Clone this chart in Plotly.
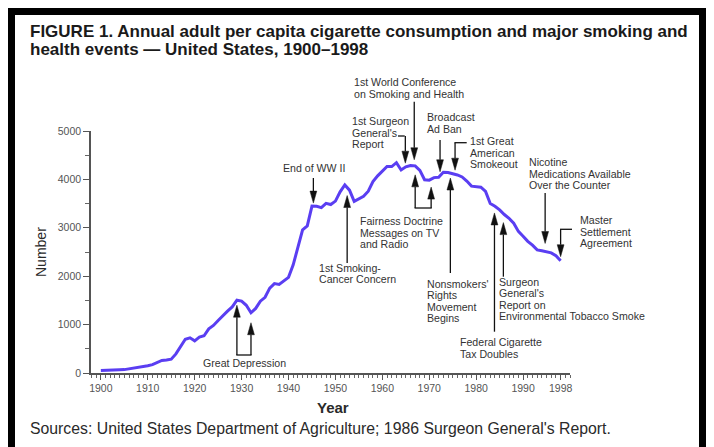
import numpy as np
import plotly.graph_objects as go

# ---------------- data ----------------
years = list(range(1900, 1999))
consumption = [54, 53, 60, 64, 66, 70, 86, 99, 105, 125,
               151, 173, 223, 260, 267, 285, 395, 551, 697, 727,
               665, 742, 770, 911, 982, 1085, 1191, 1279, 1366, 1504,
               1485, 1399, 1245, 1334, 1483, 1564, 1754, 1847, 1830, 1900,
               1976, 2236, 2585, 2956, 3039, 3449, 3446, 3416, 3505, 3480,
               3552, 3744, 3886, 3778, 3546, 3597, 3650, 3755, 3953, 4073,
               4171, 4266, 4265, 4345, 4195, 4259, 4287, 4280, 4186, 3993,
               3985, 4037, 4043, 4148, 4141, 4123, 4092, 4051, 3967, 3861,
               3851, 3840, 3753, 3502, 3446, 3370, 3274, 3197, 3096, 2926,
               2826, 2720, 2641, 2543, 2524, 2505, 2482, 2423, 2320]

x_tick_vals = [1900, 1910, 1920, 1930, 1940, 1950, 1960, 1970, 1980, 1990, 1998]
x_tick_text = [str(v) for v in x_tick_vals]
y_tick_vals = [0, 1000, 2000, 3000, 4000, 5000]
y_tick_text = [str(v) for v in y_tick_vals]

event_labels = [
    ["Great Depression"],
    ["End of WW II"],
    ["1st Smoking-", "Cancer Concern"],
    ["1st Surgeon", "General's", "Report"],
    ["1st World Conference", "on Smoking and Health"],
    ["Fairness Doctrine", "Messages on TV", "and Radio"],
    ["Broadcast", "Ad Ban"],
    ["Nonsmokers'", "Rights", "Movement", "Begins"],
    ["1st Great", "American", "Smokeout"],
    ["Federal Cigarette", "Tax Doubles"],
    ["Surgeon", "General's", "Report on", "Environmental Tobacco Smoke"],
    ["Nicotine", "Medications Available", "Over the Counter"],
    ["Master", "Settlement", "Agreement"],
]
event_arrow_years = [[1929, 1932], [1945.3], [1952.5], [1964.9], [1966.8],
                     [1967.0, 1970.4], [1972.3], [1974.5], [1975.5], [1983.9],
                     [1985.8], [1994.7], [1998.0]]

title_lines = ["FIGURE 1. Annual adult per capita cigarette consumption and major smoking and",
               "health events \u2014 United States, 1900\u20131998"]
source_text = "Sources: United States Department of Agriculture; 1986 Surgeon General's Report."
x_title = "Year"
y_title = "Number"

# ---------------- layout / style specs ----------------
W, H = 714, 447
OFF = 8                      # page body margin: figure origin sits at screen (8, 8)
SL, ST = 91, 131             # screen position of plot area's left / top edge
PW, PH = 479, 242
ML, MT = SL - OFF, ST - OFF
MR, MB = W - ML - PW, H - MT - PH
X0, X1 = 1897.9, 2000.0
Y0, Y1 = 0, 5000

arrow_dir = ['up', 'down', 'up', 'down', 'down', 'up', 'down', 'up', 'down', 'up', 'up', 'down', 'down']
arrow_gap_px = [[5, 10], [3], [8], [4], [6], [9, 8], [4], [5], [4], [7], [9], [8], [4]]
tail_px = [355, 178, 263, 136, 101.7, 208, 140, 273, 142.7, 331.7, 276.7, 193, 229.3]
text_pos = [(244, 363, 'center'), (314, 168, 'center'), (317, 273.5, 'left'), (350, 132.7, 'left'),
            (352, 88, 'left'), (358, 232.5, 'left'), (425, 123, 'left'), (425, 301, 'left'),
            (468, 152.5, 'left'), (458, 348, 'left'), (497, 299, 'left'), (527, 173.5, 'left'),
            (578, 231.7, 'left')]
connectors = {0: ('bracket',), 5: ('bracket',), 3: ('elbow', 398), 8: ('elbow', 466.7), 12: ('elbow', 572)}

LINE_SPACING = 11.3
HEAD_LEN, HEAD_HW = 12, 3.4
LINE_COLOR = '#5a3ef2'
INK = '#111111'
TXT = '#333333'
FONT = 'Liberation Sans, Arial, sans-serif'


def x2px(x):
    return SL + (x - X0) / (X1 - X0) * PW


def y2px(v):
    return ST + PH - (v - Y0) / (Y1 - Y0) * PH


def ppx(px):
    return (px - SL) / PW


def ppy(py):
    return (ST + PH - py) / PH


fig = go.Figure()
fig.add_trace(go.Scatter(x=years, y=consumption, mode='lines',
                         line=dict(color=LINE_COLOR, width=3), hoverinfo='x+y'))

shapes = []
annotations = []


def seg(xa, ya, xb, yb, width=1.3):
    shapes.append(dict(type='line', xref='paper', yref='paper',
                       x0=ppx(xa), y0=ppy(ya), x1=ppx(xb), y1=ppy(yb),
                       line=dict(color=INK, width=width)))


for i, lines in enumerate(event_labels):
    xs_px = []
    for j, yr in enumerate(event_arrow_years[i]):
        xp = x2px(yr)
        xs_px.append(xp)
        ly = y2px(float(np.interp(yr, years, consumption)))
        gap = arrow_gap_px[i][j]
        if arrow_dir[i] == 'down':
            tip = ly - gap
            base = tip - HEAD_LEN
        else:
            tip = ly + gap
            base = tip + HEAD_LEN
        seg(xp, tail_px[i], xp, base)
        path = "M {:.5f},{:.5f} L {:.5f},{:.5f} L {:.5f},{:.5f} Z".format(
            ppx(xp), ppy(tip), ppx(xp - HEAD_HW), ppy(base), ppx(xp + HEAD_HW), ppy(base))
        shapes.append(dict(type='path', xref='paper', yref='paper', path=path,
                           fillcolor=INK, line=dict(color=INK, width=0.5)))
    conn = connectors.get(i)
    if conn:
        if conn[0] == 'bracket':
            seg(xs_px[0] - 0.6, tail_px[i], xs_px[-1] + 0.6, tail_px[i])
        else:
            seg(conn[1], tail_px[i], xs_px[0] - 0.6, tail_px[i])
    tx, ty, anch = text_pos[i]
    n = len(lines)
    for k, line in enumerate(lines):
        cy = ty + (k - (n - 1) / 2) * LINE_SPACING
        annotations.append(dict(text=line, xref='paper', yref='paper', x=ppx(tx), y=ppy(cy),
                                xanchor=anch, yanchor='middle', align=anch, showarrow=False,
                                font=dict(family=FONT, size=10.6, color=TXT)))

# title
for k, t in enumerate(title_lines):
    annotations.append(dict(text=t, xref='paper', yref='paper', x=ppx(28), y=ppy(32 + 17 * k),
                            xanchor='left', yanchor='middle', showarrow=False,
                            font=dict(family=FONT, size=17, color='#1a1a1a', weight='bold')))
# source
annotations.append(dict(text=source_text, xref='paper', yref='paper', x=ppx(28), y=ppy(428),
                        xanchor='left', yanchor='middle', showarrow=False,
                        font=dict(family=FONT, size=15.8, color='#2a2a2a')))
# axis titles
annotations.append(dict(text=x_title, xref='paper', yref='paper', x=ppx(333), y=ppy(407),
                        xanchor='center', yanchor='middle', showarrow=False,
                        font=dict(family=FONT, size=15, color='#2a2a2a', weight='bold')))
annotations.append(dict(text=y_title, xref='paper', yref='paper', x=ppx(41), y=ppy(252),
                        xanchor='center', yanchor='middle', showarrow=False, textangle=-90,
                        font=dict(family=FONT, size=14, color='#2a2a2a')))

# frame
shapes.append(dict(type='rect', xref='paper', yref='paper',
                   x0=ppx(11.5), x1=ppx(702.5), y0=ppy(470), y1=ppy(11.5),
                   line=dict(color='black', width=7), fillcolor='rgba(0,0,0,0)'))

fig.update_layout(
    width=W, height=H,
    margin=dict(l=ML, r=MR, t=MT, b=MB, pad=0),
    paper_bgcolor='white', plot_bgcolor='white',
    showlegend=False,
    shapes=shapes, annotations=annotations,
    xaxis=dict(range=[X0, X1], showgrid=False, zeroline=False,
               showline=True, linecolor='#555', linewidth=1.5,
               tickmode='array', tickvals=x_tick_vals, ticktext=x_tick_text,
               ticks='outside', ticklen=5, tickwidth=1.2, tickcolor='#555',
               tickfont=dict(family=FONT, size=10.5, color='#555'),
               minor=dict(tickmode='linear', tick0=1900, dtick=1, ticks='outside',
                          ticklen=3, tickwidth=0.8, tickcolor='#666', showgrid=False)),
    yaxis=dict(range=[Y0, Y1], showgrid=False, zeroline=False,
               showline=True, linecolor='#555', linewidth=1.5,
               tickmode='array', tickvals=y_tick_vals, ticktext=y_tick_text,
               ticks='outside', ticklen=6, tickwidth=1.2, tickcolor='#555',
               tickfont=dict(family=FONT, size=10.5, color='#555'),
               minor=dict(tickmode='linear', tick0=0, dtick=500, ticks='outside',
                          ticklen=4, tickwidth=1, tickcolor='#666', showgrid=False)),
)

fig.write_html("out.html")
